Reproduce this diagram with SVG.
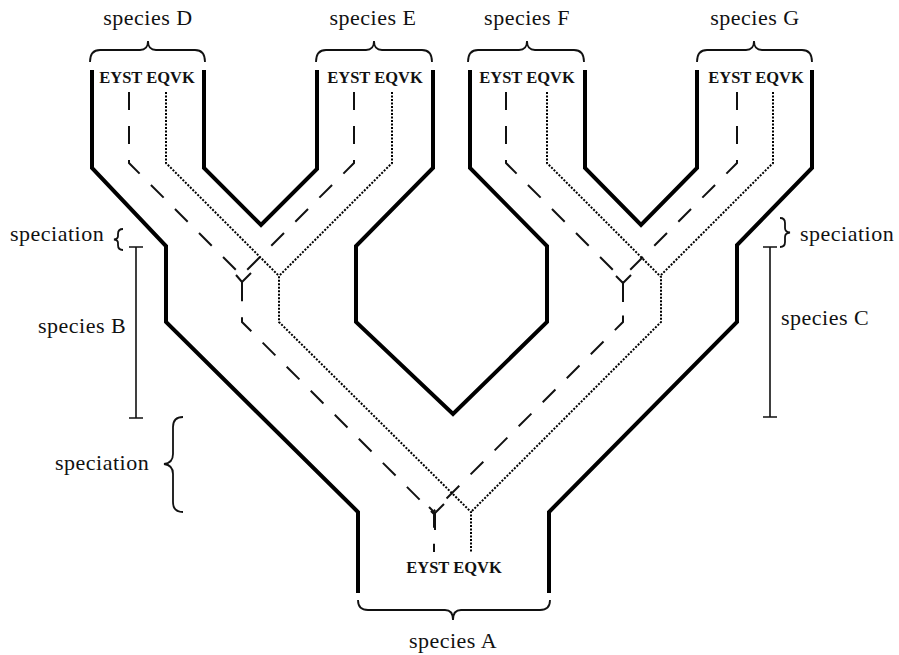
<svg xmlns="http://www.w3.org/2000/svg" width="899" height="655" viewBox="0 0 899 655">
<style>
.wall{fill:none;stroke:#000;stroke-width:4;stroke-linejoin:miter;stroke-linecap:butt}
.dash{fill:none;stroke:#111;stroke-width:2;stroke-dasharray:18 16}
.dot{fill:none;stroke:#000;stroke-width:2;stroke-dasharray:2 1.5}
.ysolid{fill:none;stroke:#111;stroke-width:2}
.brace{fill:none;stroke:#111;stroke-width:1.8}
.bar{fill:none;stroke:#111;stroke-width:1.6}
.lbl{font-family:"Liberation Serif",serif;font-size:22px;letter-spacing:0.5px;fill:#111}
.seq{font-family:"Liberation Serif",serif;font-size:16.5px;font-weight:bold;fill:#111;text-anchor:middle}
.mid{text-anchor:middle}
</style>
<rect width="899" height="655" fill="#fff"/>

<g id="walls">
<path class="wall" d="M92,70 V168 L166,246 V322 L358,512 V593"/>
<path class="wall" d="M204,70 V168 L261,225 L317,169 V70"/>
<path class="wall" d="M433,70 V168 L356,246 V322 L453,414 L547,322 V246 L470,168 V70"/>
<path class="wall" d="M585,70 V168 L641,225 L697,168 V70"/>
<path class="wall" d="M812,70 V168 L737,245 V322 L549,512 V593"/>
</g>

<g id="connectors">
<path class="dash" d="M129,92 V163 L242,276 V322 L434,514 V552"/>
<path class="dash" d="M354,92 V163 L242,275"/>
<path class="dash" d="M506,92 V163 L623,280 V322 L434,511"/>
<path class="dash" d="M737,92 V163 L623,277"/>
<path class="dot" d="M166,92 V163 L279,276 V322 L471,512 V552"/>
<path class="dot" d="M392,92 V163 L279,276"/>
<path class="dot" d="M547,92 V163 L661,277 V322 L471,512"/>
<path class="dot" d="M773,92 V163 L661,275"/>
<path class="ysolid" d="M236,275 L242,282 L251,273 M242,282 V301"/>
<path class="ysolid" d="M616,276 L623,283 L631,275 M623,283 V302"/>
<path class="ysolid" d="M429,507 L435,513 L444,504 M435,513 V530"/>
</g>

<g id="speciesD">
<text class="lbl mid" x="148" y="25">species D</text>
<path class="brace" d="M90,62 Q90,50 100,50 L140,50 Q148,50 148,41 Q148,50 156,50 L195,50 Q205,50 205,62"/>
<text class="seq" x="147" y="83">EYST EQVK</text>
</g>
<g id="speciesE">
<text class="lbl mid" x="373" y="25">species E</text>
<path class="brace" d="M316,62 Q316,50 326,50 L366,50 Q374,50 374,41 Q374,50 382,50 L422,50 Q432,50 432,62"/>
<text class="seq" x="375" y="83">EYST EQVK</text>
</g>
<g id="speciesF">
<text class="lbl mid" x="527" y="25">species F</text>
<path class="brace" d="M468,62 Q468,50 478,50 L519,50 Q527,50 527,41 Q527,50 535,50 L574,50 Q584,50 584,62"/>
<text class="seq" x="527" y="83">EYST EQVK</text>
</g>
<g id="speciesG">
<text class="lbl mid" x="755" y="25">species G</text>
<path class="brace" d="M697,62 Q697,50 707,50 L746,50 Q754,50 754,41 Q754,50 762,50 L802,50 Q812,50 812,62"/>
<text class="seq" x="756" y="83">EYST EQVK</text>
</g>

<g id="speciesA">
<text class="seq" x="454" y="573">EYST EQVK</text>
<path class="brace" d="M358,600 Q358,610 368,610 L445,610 Q453,610 453,620 Q453,610 461,610 L540,610 Q550,610 550,600"/>
<text class="lbl mid" x="453" y="648">species A</text>
</g>

<g id="speciesB">
<text class="lbl" x="10" y="241">speciation</text>
<path class="brace" d="M123,229 Q118,229 118,234 L118,236 Q118,239 114,239.5 Q118,240 118,243 L118,245 Q118,250 123,250"/>
<path class="bar" d="M136,247 V418 M129,247 H143 M129,418 H143"/>
<text class="lbl" x="38" y="333">species B</text>
<text class="lbl" x="55" y="470">speciation</text>
<path class="brace" d="M183,417 Q173,417 173,427 L173,454 Q173,463 164,464 Q173,465 173,474 L173,502 Q173,512 183,512"/>
</g>

<g id="speciesC">
<path class="brace" d="M780,218 Q785,218 785,223 L785,228 Q785,232 790,232.5 Q785,233 785,237 L785,242 Q785,247 780,247"/>
<text class="lbl" x="800" y="241">speciation</text>
<path class="bar" d="M770,247 V417 M763,247 H777 M763,417 H777"/>
<text class="lbl" x="781" y="325">species C</text>
</g>
</svg>
